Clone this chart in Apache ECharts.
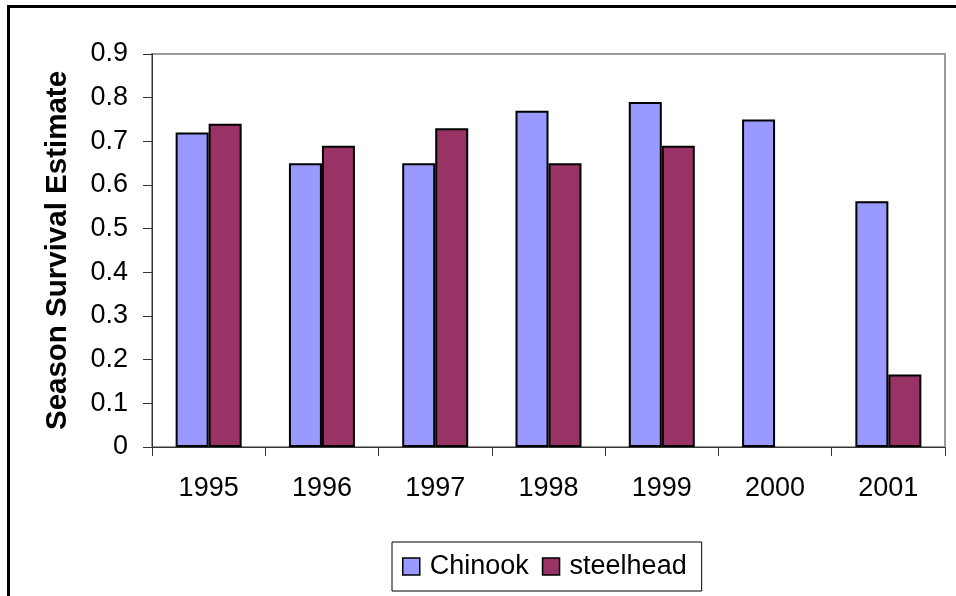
<!DOCTYPE html>
<html>
<head>
<meta charset="utf-8">
<script src="https://cdn.jsdelivr.net/npm/echarts@6/dist/echarts.min.js"></script>
<style>
html,body{margin:0;padding:0;background:#fff;}
#chart{width:956px;height:596px;}
</style>
</head>
<body>
<div id="chart"></div>
<script>
const categories = ['1995','1996','1997','1998','1999','2000','2001'];
const chinook = [0.72, 0.65, 0.65, 0.77, 0.79, 0.75, 0.563];
const steelhead = [0.74, 0.69, 0.73, 0.65, 0.69, null, 0.166];
const yTicks = [0, 0.1, 0.2, 0.3, 0.4, 0.5, 0.6, 0.7, 0.8, 0.9];

const FONT = '"Liberation Sans", Arial, sans-serif';
const chart = echarts.init(document.getElementById('chart'), null, {renderer:'canvas'});
chart.setOption({
  animation: false,
  backgroundColor: '#fff',
  textStyle: {fontFamily: FONT},
  graphic: [{
    type: 'rect', z: 100, silent: true,
    shape: {x: 8.5, y: 6.5, width: 1200, height: 1200},
    style: {fill: 'none', stroke: '#000', lineWidth: 3}
  }],
  grid: {
    left: 152, right: 11, top: 54, bottom: 149,
    show: true, borderColor: '#999', borderWidth: 2, backgroundColor: '#fff'
  },
  legend: {
    left: 392, top: 542,
    padding: [11, 15, 11, 10],
    borderColor: '#000', borderWidth: 1,
    itemWidth: 17, itemHeight: 17, itemGap: 13,
    icon: 'rect',
    itemStyle: {borderColor: '#000', borderWidth: 1.5},
    textStyle: {fontFamily: FONT, fontSize: 27, color: '#000', padding: [0,0,0,5]},
    data: ['Chinook', 'steelhead']
  },
  xAxis: {
    type: 'category',
    data: categories,
    boundaryGap: true,
    axisLine: {lineStyle: {color: '#333', width: 1}},
    axisTick: {show: true, length: 9, alignWithLabel: false, lineStyle: {color: '#333'}},
    axisLabel: {fontFamily: FONT, fontSize: 27, color: '#000', margin: 28},
    splitLine: {show: false}
  },
  yAxis: {
    type: 'value',
    min: 0, max: 0.9, interval: 0.1,
    name: 'Season Survival Estimate',
    nameLocation: 'middle',
    nameGap: 79,
    nameTextStyle: {fontFamily: FONT, fontSize: 29.5, fontWeight: 'bold', color: '#000'},
    axisLine: {show: true, lineStyle: {color: '#333', width: 1}},
    axisTick: {show: true, length: 9, lineStyle: {color: '#333'}},
    axisLabel: {
      fontFamily: FONT, fontSize: 27, color: '#000', margin: 24,
      formatter: function (v) {
        const t = yTicks.find(x => Math.abs(x - v) < 1e-9);
        return t === undefined ? '' : String(t);
      }
    },
    splitLine: {show: false}
  },
  series: [
    {
      name: 'Chinook', type: 'bar', data: chinook,
      barWidth: 33, barGap: '0%',
      itemStyle: {color: '#9999FF', borderColor: '#000', borderWidth: 2}
    },
    {
      name: 'steelhead', type: 'bar', data: steelhead,
      barWidth: 33, barGap: '0%',
      itemStyle: {color: '#993366', borderColor: '#000', borderWidth: 2}
    }
  ]
});
</script>
</body>
</html>
